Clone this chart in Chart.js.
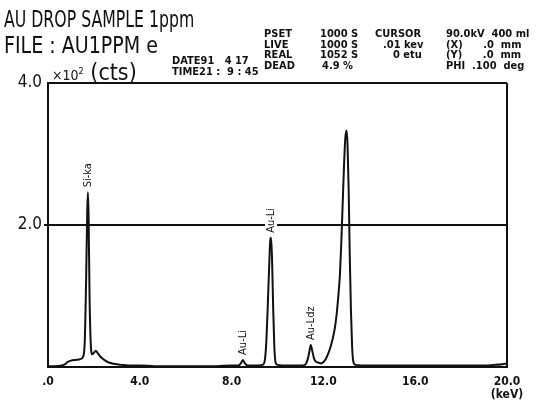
<!DOCTYPE html>
<html>
<head>
<meta charset="utf-8">
<script src="https://cdn.jsdelivr.net/npm/chart.js@4.4.1/dist/chart.umd.min.js"></script>
<style>
  body { margin: 0; background: #fff; }
  #wrap { position: relative; width: 548px; height: 401px; overflow: hidden; }
  #myChart { position: absolute; left: 0; top: 0; }
  .t { position: absolute; white-space: pre; color: #111; font-family: "Liberation Sans Narrow", "DejaVu Sans Condensed", "Liberation Sans", sans-serif; line-height: 1; transform-origin: 0 0; }
  .big { font-size: 23px; }
  .sm { font-size: 11px; font-weight: bold; }
</style>
</head>
<body>
<div id="wrap">
  <canvas id="myChart" width="548" height="401"></canvas>
  <div class="t big" style="left:4px;top:8px;transform:scaleX(0.76);">AU DROP SAMPLE 1ppm</div>
  <div class="t big" style="left:4px;top:34px;transform:scaleX(0.92);">FILE : AU1PPM e</div>
  <div class="t big" style="left:52px;top:61px;"><span style="font-size:14px">×10<sup style="font-size:9px">2</sup></span> (cts)</div>
  <div class="t sm" style="left:172px;top:55px;">DATE91   4 17</div>
  <div class="t sm" style="left:172px;top:66px;">TIME21 :  9 : 45</div>
  <div class="t sm" style="left:264px;top:28px;">PSET</div>
  <div class="t sm" style="left:264px;top:39px;">LIVE</div>
  <div class="t sm" style="left:264px;top:49px;">REAL</div>
  <div class="t sm" style="left:264px;top:60px;">DEAD</div>
  <div class="t sm" style="left:320px;top:28px;">1000 S</div>
  <div class="t sm" style="left:320px;top:39px;">1000 S</div>
  <div class="t sm" style="left:320px;top:49px;">1052 S</div>
  <div class="t sm" style="left:322px;top:60px;">4.9 %</div>
  <div class="t sm" style="left:375px;top:28px;">CURSOR</div>
  <div class="t sm" style="left:383px;top:39px;">.01 kev</div>
  <div class="t sm" style="left:393px;top:49px;">0 etu</div>
  <div class="t sm" style="left:446px;top:28px;">90.0kV  400 ml</div>
  <div class="t sm" style="left:446px;top:39px;">(X)      .0  mm</div>
  <div class="t sm" style="left:446px;top:49px;">(Y)      .0  mm</div>
  <div class="t sm" style="left:446px;top:60px;">PHI  .100  deg</div>
</div>
<script>
// spectrum: energy (keV) and counts (x100 cts)
const energies = [
  0.00, 0.30, 0.60, 0.75, 0.85, 1.00, 1.20, 1.40, 1.52, 1.60, 1.66, 1.71, 1.74, 1.77, 1.81, 1.86,
  1.92, 2.00, 2.08, 2.18, 2.30, 2.45, 2.60, 2.80, 3.00, 3.20, 3.50, 4.00, 5.00, 6.00, 7.00, 8.00,
  8.30, 8.40, 8.49, 8.58, 8.70, 9.00, 9.35, 9.45, 9.52, 9.58, 9.64, 9.69, 9.72, 9.76, 9.81, 9.86,
  9.92, 10.00, 10.50, 11.00, 11.20, 11.30, 11.38, 11.45, 11.52, 11.60, 11.70, 11.80, 11.90, 12.00,
  12.10, 12.20, 12.30, 12.40, 12.50, 12.58, 12.65, 12.72, 12.78, 12.84, 12.90, 12.95, 13.00, 13.05,
  13.10, 13.15, 13.20, 13.25, 13.30, 13.40, 14.00, 15.00, 16.00, 17.00, 18.00, 19.00, 19.50, 19.80, 20.00
];
const counts = [
  0.01, 0.01, 0.02, 0.04, 0.07, 0.09, 0.10, 0.11, 0.14, 0.35, 1.20, 2.20, 2.46, 2.10, 1.00, 0.35,
  0.18, 0.20, 0.23, 0.19, 0.14, 0.10, 0.07, 0.05, 0.04, 0.03, 0.02, 0.02, 0.01, 0.01, 0.01, 0.02,
  0.02, 0.05, 0.10, 0.05, 0.02, 0.02, 0.03, 0.10, 0.40, 0.90, 1.45, 1.80, 1.82, 1.55, 0.85, 0.30,
  0.06, 0.03, 0.02, 0.02, 0.03, 0.09, 0.20, 0.31, 0.22, 0.11, 0.07, 0.06, 0.05, 0.07,
  0.11, 0.18, 0.27, 0.39, 0.55, 0.75, 1.00, 1.30, 1.75, 2.30, 2.85, 3.20, 3.33, 3.15,
  2.50, 1.55, 0.80, 0.30, 0.08, 0.03, 0.02, 0.02, 0.02, 0.02, 0.02, 0.02, 0.03, 0.04, 0.05
];

const xTicks = [0, 4, 8, 12, 16, 20];
const xTickLabels = ['.0', '4.0', '8.0', '12.0', '16.0', ['20.0', '(keV)']];
const yTicks = [2, 4];
const yTickLabels = ['2.0', '4.0'];

const peakNames = ['Si-ka', 'Au-Li', 'Au-Li', 'Au-Ldz'];
const peakEnergies = [1.74, 8.49, 9.72, 11.45];
const peakCounts = [2.46, 0.10, 1.82, 0.31];

const narrow = '"Liberation Sans Narrow", "DejaVu Sans Condensed", "Liberation Sans", sans-serif';

const peakLabels = {
  id: 'peakLabels',
  afterDatasetsDraw(chart) {
    const c = chart.ctx;
    const xs = chart.scales.x, ys = chart.scales.y;
    c.save();
    c.font = '11px ' + narrow;
    c.textBaseline = 'middle';
    c.textAlign = 'left';
    peakNames.forEach((name, i) => {
      const px = xs.getPixelForValue(peakEnergies[i]);
      const py = ys.getPixelForValue(peakCounts[i]) - 4;
      const w = c.measureText(name).width;
      c.save();
      c.translate(px, py);
      c.rotate(-Math.PI / 2);
      c.fillStyle = '#fff';
      c.fillRect(-1, -6, w + 4, 12);
      c.fillStyle = '#111';
      c.fillText(name, 1, 0);
      c.restore();
    });
    c.restore();
  }
};

const ctx = document.getElementById('myChart').getContext('2d');
const spectrum = new Chart(ctx, {
  type: 'line',
  data: {
    datasets: [{
      data: energies.map((e, i) => ({ x: e, y: counts[i] })),
      borderColor: '#111',
      borderWidth: 2,
      pointRadius: 0,
      cubicInterpolationMode: 'monotone',
      fill: false
    }]
  },
  options: {
    responsive: false,
    animation: false,
    layout: { padding: { left: 0, right: 41, top: 83, bottom: 0 } },
    plugins: { legend: { display: false }, tooltip: { enabled: false } },
    scales: {
      x: {
        type: 'linear', min: 0, max: 20,
        afterBuildTicks: s => { s.ticks = xTicks.map(v => ({ value: v })); },
        afterFit: s => { s.height = 34; },
        ticks: {
          callback: (v) => xTickLabels[xTicks.indexOf(v)],
          color: '#111', padding: 9, maxRotation: 0, autoSkip: false,
          font: { family: narrow, size: 12, weight: 'bold', lineHeight: 1.05 }
        },
        grid: {
          color: c => (c.tick && c.tick.value === 20) ? '#111' : 'rgba(0,0,0,0)',
          lineWidth: 2, drawTicks: false
        },
        border: { color: '#111', width: 2 }
      },
      y: {
        type: 'linear', min: 0, max: 4,
        afterBuildTicks: s => { s.ticks = yTicks.map(v => ({ value: v })); },
        afterFit: s => { s.width = 48; },
        ticks: {
          callback: (v) => yTickLabels[yTicks.indexOf(v)],
          color: '#111', padding: 2,
          font: { family: narrow, size: 17 }
        },
        grid: {
          color: '#111', lineWidth: 2, tickLength: 4,
          tickColor: c => (c.tick && c.tick.value === 4) ? 'rgba(0,0,0,0)' : '#111'
        },
        border: { color: '#111', width: 2 }
      }
    }
  },
  plugins: [peakLabels]
});
</script>
</body>
</html>
